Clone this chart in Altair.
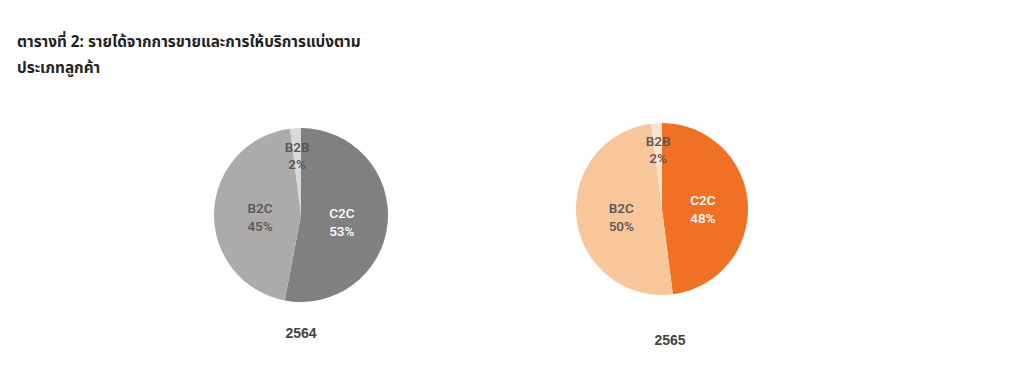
import altair as alt
import pandas as pd

categories = ["C2C", "B2C", "B2B"]
share_2564 = [53, 45, 2]
share_2565 = [48, 50, 2]
years = ["2564", "2565"]
colors_2564 = ["#808080", "#adabaa", "#d9d9d9"]
colors_2565 = ["#f07126", "#f8c69b", "#fbe3cf"]
title_lines = ["ตารางที่ 2: รายได้จากการขายและการให้บริการแบ่งตาม", "ประเภทลูกค้า"]

LABEL_FONT = "Roboto"


def make_pie(year, shares, colors, w, h, r, title_offset, title_dx):
    df = pd.DataFrame({"category": categories, "share": shares, "idx": list(range(len(categories)))})
    base = alt.Chart(df).transform_calculate(
        big_label="datum.share > 5 ? [datum.category, datum.share + '%'] : ''",
        small_label="datum.share <= 5 ? [datum.category, datum.share + '%'] : ''",
    ).encode(
        theta=alt.Theta("share:Q", stack=True),
        order=alt.Order("idx:Q"),
    )
    arc = base.mark_arc(outerRadius=r).encode(
        color=alt.Color("category:N", scale=alt.Scale(domain=categories, range=colors), legend=None)
    )
    txt_color = alt.condition(alt.datum.category == "C2C", alt.value("#ffffff"), alt.value("#555555"))
    big = base.mark_text(radius=41, dy=-5, font=LABEL_FONT, fontSize=13.5, fontWeight=500, lineHeight=18).encode(
        text="big_label:N", color=txt_color
    )
    small = base.mark_text(radius=62, dy=-5, font=LABEL_FONT, fontSize=13.5, fontWeight=500, lineHeight=17).encode(
        text="small_label:N", color=txt_color
    )
    return alt.layer(arc, big, small).properties(
        width=w, height=h,
        title=alt.TitleParams(year, orient="bottom", fontSize=14, fontWeight="bold",
                              font="Liberation Sans", color="#444444", offset=title_offset, dx=title_dx),
    )


p1 = make_pie(years[0], share_2564, colors_2564, 200, 186, 87, 19, 0)
p2 = make_pie(years[1], share_2565, colors_2565, 200, 174, 86, 38, 8)

chart = alt.hconcat(p1, p2, spacing=161).resolve_scale(color="independent").properties(
    title=alt.TitleParams(title_lines, anchor="start", fontSize=15.3, fontWeight="bold",
                          font="Noto Sans Thai, Tahoma, sans-serif", lineHeight=26,
                          dx=-184, color="#222222", offset=46),
    padding={"left": 9, "top": 26, "right": 5, "bottom": 5},
).configure_view(stroke=None)

chart.save("out.html", embed_options={"renderer": "svg", "actions": False})
